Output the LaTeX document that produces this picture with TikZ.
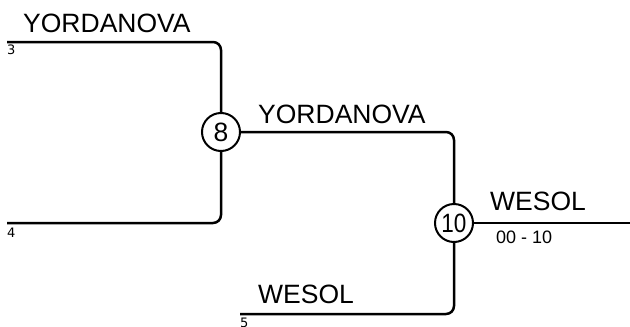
\documentclass[tikz,border=0pt]{standalone}
\usepackage{fontspec}
\setmainfont{Liberation Sans}
\newfontfamily\seedfont{DejaVu Sans}
\usetikzlibrary{positioning}

\begin{document}
\begin{tikzpicture}[x=1pt,y=-1pt,
    bracket/.style={line width=2.5pt, rounded corners=8pt},
    match/.style={circle, draw, line width=2pt, minimum size=38pt, inner sep=0pt, font=\fontsize{26.5}{30}\selectfont},
    player/.style={font=\fontsize{26.5}{30}\selectfont, inner sep=0pt, anchor=base west},
    seed/.style={font=\seedfont\fontsize{13}{15}\selectfont, inner sep=0pt, anchor=north west},
    score/.style={font=\fontsize{18}{20}\selectfont, inner sep=0pt, anchor=base west}]
            \useasboundingbox (0,0) rectangle (630,327);
            % matches
            \node[match] (m8) at (221,132) {8};
            \node[match] (m10) at (454,223) {\scalebox{0.85}[1]{10}};
            \coordinate (s3) at (7,42);
            \coordinate (s4) at (7,223);
            \coordinate (s5) at (240,314);
            \coordinate (win) at (630,223);
            \draw[bracket] (s3) -| (m8);
            \draw[bracket] (s4) -| (m8);
            \draw[bracket] (m8) -| (m10);
            \draw[bracket] (s5) -| (m10);
            \draw[bracket] (m10) -- (win);
            % names and seeds
            \node[player] (p3) at (23,32) {YORDANOVA};
            \node[seed] (n3) at (7,45) {3};
            \node[seed] (n4) at (7,228) {4};
            \node[player] (p8) at (258,123) {YORDANOVA};
            \node[player] (p5) at (258,303) {WESOL};
            \node[seed] (n5) at (240,318) {5};
            \node[player] (p10) at (490,210) {WESOL};
            \node[score] (r10) at (496,243) {00 - 10};
          \end{tikzpicture}
\end{document}
